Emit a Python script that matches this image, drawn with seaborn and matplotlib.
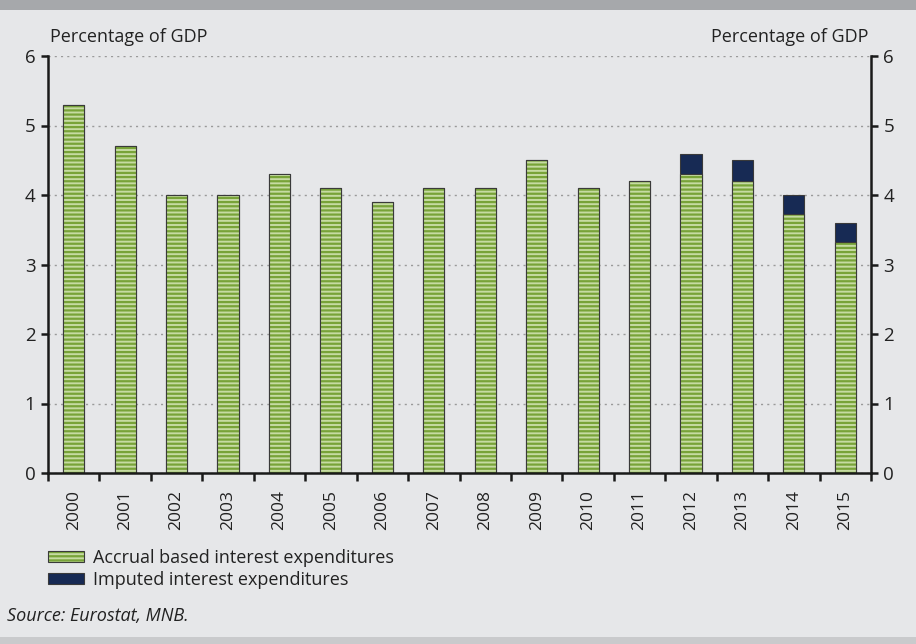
import matplotlib
matplotlib.use("Agg")
import matplotlib.pyplot as plt
import matplotlib.patches as mpatches
from matplotlib.legend_handler import HandlerTuple
import seaborn as sns
import pandas as pd

years = [str(y) for y in range(2000, 2016)]
accrual = [5.3, 4.7, 4.0, 4.0, 4.3, 4.1, 3.9, 4.1, 4.1, 4.5, 4.1, 4.2, 4.3, 4.2, 3.73, 3.33]
imputed = [0, 0, 0, 0, 0, 0, 0, 0, 0, 0, 0, 0, 0.29, 0.3, 0.27, 0.27]
y_ticks = [0, 1, 2, 3, 4, 5, 6]

bg = "#e6e7e9"
light_green = "#c6dba2"
dark_green = "#78a338"
navy = "#172a54"
outline = "#3a3a3a"

df = pd.DataFrame({"year": years, "accrual": accrual, "imputed": imputed})
df["total"] = df["accrual"] + df["imputed"]

sns.set_theme(style="white")
plt.rcParams["font.family"] = ["Open Sans", "DejaVu Sans"]
plt.rcParams["hatch.linewidth"] = 1.6

fig = plt.figure(figsize=(9.16, 6.44), dpi=100, facecolor=bg)
ax = fig.add_axes([48 / 916, 1 - 473 / 644, (871 - 48) / 916, (473 - 56) / 644])
ax.set_facecolor(bg)

# imputed part: full stacked height in navy
sns.barplot(data=df, x="year", y="total", color=navy, saturation=1, width=0.41,
            edgecolor=outline, linewidth=0.8, ax=ax)
n_first = len(ax.patches)
# accrual part: striped green (hatch takes the edge colour)
sns.barplot(data=df, x="year", y="accrual", color=light_green, saturation=1, width=0.41,
            edgecolor=dark_green, linewidth=0, ax=ax)
for p in ax.patches[n_first:]:
    p.set_hatch("----")
# outline of the accrual part
sns.barplot(data=df, x="year", y="accrual", fill=False, width=0.41,
            edgecolor=outline, linewidth=0.8, ax=ax)

ax.set_xlim(-0.5, len(years) - 0.5)
ax.set_ylim(0, 6)
ax.set_yticks(y_ticks)
ax.set_xlabel("")
ax.set_ylabel("")
ax.grid(axis="y", color="#9a9a9a", linestyle=(0, (1.5, 3)), linewidth=1)
ax.set_axisbelow(True)

ax.spines["top"].set_visible(False)
for s in ["left", "right", "bottom"]:
    ax.spines[s].set_color("#1a1a1a")
    ax.spines[s].set_linewidth(1.8)

ax.tick_params(axis="y", left=True, right=True, labelleft=True, labelright=True,
               direction="out", length=5, width=1.8, color="#1a1a1a",
               labelsize=13.5, labelcolor="#222222", pad=4)
ax.set_xticks(range(len(years)))
ax.set_xticklabels(years, rotation=90, fontsize=12.5, color="#222222")
ax.tick_params(axis="x", bottom=False, pad=6)
ax.set_xticks([i - 0.5 for i in range(len(years) + 1)], minor=True)
ax.tick_params(axis="x", which="minor", bottom=True, direction="out", length=6,
               width=1.8, color="#1a1a1a")

fig.text(50 / 916, 1 - 37 / 644, "Percentage of GDP", fontsize=13, color="#222222",
         va="center", ha="left")
fig.text(868 / 916, 1 - 37 / 644, "Percentage of GDP", fontsize=13, color="#222222",
         va="center", ha="right")

h1_fill = mpatches.Patch(facecolor=light_green, edgecolor=dark_green, hatch="----", linewidth=0)
h1_edge = mpatches.Patch(facecolor="none", edgecolor=outline, linewidth=0.8)
h2 = mpatches.Patch(facecolor=navy, edgecolor=outline, linewidth=0.8)
leg = fig.legend(handles=[(h1_fill, h1_edge), h2],
                 labels=["Accrual based interest expenditures", "Imputed interest expenditures"],
                 handler_map={tuple: HandlerTuple(ndivide=1, pad=0)},
                 loc="upper left", bbox_to_anchor=(48 / 916, 1 - 549 / 644),
                 frameon=False, fontsize=13, handlelength=2.0, handleheight=0.6,
                 handletextpad=0.5, labelspacing=0.2, borderaxespad=0, borderpad=0)
for t in leg.get_texts():
    t.set_color("#222222")

fig.text(7 / 916, 1 - 616 / 644, "Source: Eurostat, MNB.", fontsize=13, style="italic",
         color="#222222", va="center", ha="left")

fig.add_artist(mpatches.Rectangle((0, 1 - 10 / 644), 1, 10 / 644, transform=fig.transFigure,
                                  facecolor="#a6a8ab", edgecolor="none"))
fig.add_artist(mpatches.Rectangle((0, 0), 1, 7 / 644, transform=fig.transFigure,
                                  facecolor="#c9cacc", edgecolor="none"))

fig.savefig("out.png", dpi=100, facecolor=bg)
